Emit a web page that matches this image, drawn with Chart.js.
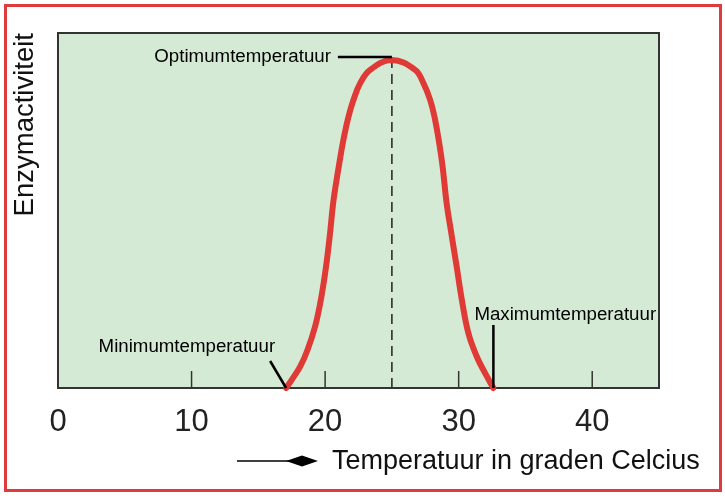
<!DOCTYPE html>
<html>
<head>
<meta charset="utf-8">
<script src="https://cdn.jsdelivr.net/npm/chart.js@4.4.1/dist/chart.umd.min.js"></script>
<style>
    html, body { margin: 0; padding: 0; background: #ffffff; }
    #wrap { position: relative; width: 725px; height: 496px; }
    #frame {
        position: absolute; left: 4px; top: 4px; width: 718px; height: 488px;
        box-sizing: border-box; border: 3px solid #df3a3d; pointer-events: none;
    }
    canvas { position: absolute; left: 0; top: 0; }
</style>
</head>
<body>
<div id="wrap">
    <canvas id="enzymChart" width="725" height="496"></canvas>
    <div id="frame"></div>
</div>
<script>
// Temperatuur (graden Celcius) en enzymactiviteit
const temps = [17.08, 17.5, 18.13, 18.68, 19.25, 19.68, 20.07, 20.37, 20.6, 20.82, 21.05,
    21.35, 21.75, 22.12, 22.62, 23.37, 25,
    26.74, 27.37, 27.87, 28.19, 28.5, 28.8, 29.1, 29.45, 29.85, 30.24,
    30.73, 31.36, 31.99, 32.6];
const activity = [0, 2.3, 6.0, 10.7, 17.3, 24.8, 34.2, 43.6, 52, 57.7, 63,
    69.5, 76.4, 81.1, 85.8, 89.6, 92.4,
    89.6, 85.8, 81.1, 76.4, 70, 62.3, 52, 43.6, 34.2, 24.8,
    15.4, 8.8, 4.1, 0];
const tickValues = [0, 10, 20, 30, 40];
const xMax = 45;
const yMax = 100;

const labelMin = "Minimumtemperatuur";
const labelOpt = "Optimumtemperatuur";
const labelMaxT = "Maximumtemperatuur";
const xTitle = "Temperatuur in graden Celcius";
const yTitle = "Enzymactiviteit";

const points = temps.map((t, i) => ({ x: t, y: activity[i] }));

const peakIdx = activity.indexOf(Math.max(...activity));
const minT = temps[0];
const maxT = temps[temps.length - 1];

const decor = {
    id: "enzymDecor",
    beforeDraw(chart) {
        const { ctx, chartArea: a } = chart;
        ctx.save();
        ctx.fillStyle = "#d4ead5";
        ctx.fillRect(a.left, a.top, a.right - a.left, a.bottom - a.top);
        ctx.restore();
    },
    beforeDatasetsDraw(chart) {
        const { ctx, chartArea: a, scales } = chart;
        const x = scales.x, y = scales.y;
        ctx.save();
        // inward tick marks
        ctx.strokeStyle = "#333";
        ctx.lineWidth = 1.5;
        tickValues.forEach((v) => {
            if (v === 0) return;
            const px = x.getPixelForValue(v);
            ctx.beginPath();
            ctx.moveTo(px, a.bottom);
            ctx.lineTo(px, a.bottom - 17);
            ctx.stroke();
        });
        // dashed line at the optimum
        const pxOpt = x.getPixelForValue(temps[peakIdx]);
        ctx.strokeStyle = "#222";
        ctx.setLineDash([10, 6]);
        ctx.beginPath();
        ctx.moveTo(pxOpt, y.getPixelForValue(activity[peakIdx]) - 2);
        ctx.lineTo(pxOpt, a.bottom);
        ctx.stroke();
        ctx.setLineDash([]);
        // plot frame
        ctx.strokeStyle = "#333";
        ctx.lineWidth = 2;
        ctx.strokeRect(a.left, a.top, a.right - a.left, a.bottom - a.top);
        ctx.restore();
    },
    afterDatasetsDraw(chart) {
        const { ctx, scales } = chart;
        const x = scales.x, y = scales.y;
        ctx.save();
        ctx.strokeStyle = "#000";
        ctx.fillStyle = "#000";
        ctx.lineWidth = 2.5;
        ctx.font = "18.7px 'Liberation Sans', Arial, sans-serif";
        ctx.textBaseline = "middle";

        // Optimum
        const ox = x.getPixelForValue(temps[peakIdx]);
        const oy = y.getPixelForValue(activity[peakIdx]) - 3;
        ctx.beginPath();
        ctx.moveTo(ox - 54, oy);
        ctx.lineTo(ox, oy);
        ctx.stroke();
        ctx.textAlign = "right";
        ctx.fillText(labelOpt, ox - 61, oy);

        // Minimum
        const mx = x.getPixelForValue(minT);
        const my = y.getPixelForValue(0);
        ctx.beginPath();
        ctx.moveTo(mx - 16, my - 27);
        ctx.lineTo(mx, my);
        ctx.stroke();
        ctx.textAlign = "right";
        ctx.fillText(labelMin, mx - 11, my - 41);

        // Maximum
        const Mx = x.getPixelForValue(maxT);
        const My = y.getPixelForValue(0);
        ctx.beginPath();
        ctx.moveTo(Mx, My - 63);
        ctx.lineTo(Mx, My);
        ctx.stroke();
        ctx.textAlign = "left";
        ctx.fillText(labelMaxT, Mx - 19, My - 73);

        // x-axis title with arrow
        const ty = 461;
        ctx.lineWidth = 1.5;
        ctx.beginPath();
        ctx.moveTo(237, ty);
        ctx.lineTo(292, ty);
        ctx.stroke();
        ctx.beginPath();
        ctx.moveTo(286, ty);
        ctx.lineTo(302, ty - 5.5);
        ctx.lineTo(318, ty);
        ctx.lineTo(302, ty + 5.5);
        ctx.closePath();
        ctx.fill();
        ctx.fillStyle = "#111";
        ctx.font = "27px 'Liberation Sans', Arial, sans-serif";
        ctx.textAlign = "left";
        ctx.fillText(xTitle, 332, ty + 1);
        ctx.restore();
    }
};

const ctx = document.getElementById("enzymChart").getContext("2d");
new Chart(ctx, {
    type: "line",
    data: {
        datasets: [
            {
                label: yTitle,
                data: points,
                borderColor: "#e03a36",
                borderWidth: 6,
                borderCapStyle: "round",
                borderJoinStyle: "round",
                pointRadius: 0,
                tension: 0.4,
                fill: false,
                clip: false,
            },
        ],
    },
    options: {
        responsive: false,
        animation: false,
        layout: { padding: { left: 8, top: 33, right: 66, bottom: 0 } },
        plugins: {
            legend: { display: false },
            tooltip: { enabled: false },
        },
        scales: {
            x: {
                type: "linear",
                min: 0,
                max: xMax,
                afterBuildTicks: (scale) => {
                    scale.ticks = tickValues.map((v) => ({ value: v }));
                },
                afterFit: (scale) => {
                    scale.height = 108;
                },
                grid: { display: false, drawTicks: false },
                border: { display: false },
                ticks: {
                    padding: 16,
                    color: "#222",
                    maxRotation: 0,
                    font: { family: "'Liberation Sans', Arial, sans-serif", size: 31 },
                },
            },
            y: {
                min: 0,
                max: yMax,
                afterFit: (scale) => {
                    scale.width = 50;
                },
                grid: { display: false, drawTicks: false },
                border: { display: false },
                ticks: { display: false },
                title: {
                    display: true,
                    text: yTitle,
                    align: "end",
                    color: "#111",
                    padding: { top: 1, bottom: 4 },
                    font: { family: "'Liberation Sans', Arial, sans-serif", size: 27.5 },
                },
            },
        },
    },
    plugins: [decor],
});
</script>
</body>
</html>
